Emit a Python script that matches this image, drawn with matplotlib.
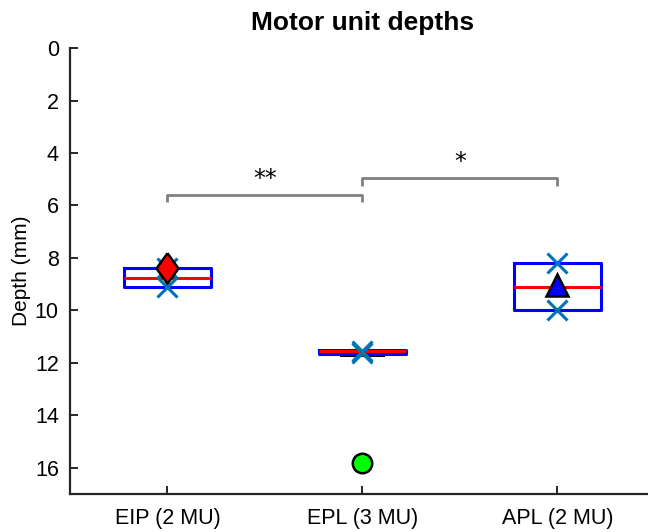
import numpy as np
import matplotlib
matplotlib.use("Agg")
import matplotlib.pyplot as plt

plt.rcParams['font.family'] = ['Liberation Sans', 'DejaVu Sans']

# groups and box summaries (depth in mm)
groups = ['EIP (2 MU)', 'EPL (3 MU)', 'APL (2 MU)']
box_q1 = [8.4, 11.52, 8.2]
box_med = [8.75, 11.55, 9.1]
box_q3 = [9.1, 11.66, 10.0]
whisk_lo = [8.4, 11.52, 8.2]
whisk_hi = [9.1, 11.74, 10.0]

# individual motor unit depths (x markers)
mu_depths = [[8.4, 9.1], [11.55, 11.62], [8.2, 10.0]]

# highlighted units
hl_depth = [8.4, 15.8, 9.05]
diamond = [(0, 1), (0.72, 0), (0, -1), (-0.72, 0), (0, 1)]
hl_marker = [diamond, 'o', '^']
hl_color = ['#ff0000', '#00ff00', '#0000ff']
hl_size = [22, 14, 16]

# significance brackets
sig_pairs = [(1, 2), (2, 3)]
sig_y = [5.6, 4.97]
sig_text = ['**', '*']

fig = plt.figure(figsize=(6.48, 5.32), dpi=100)
ax = fig.add_axes([0.108, 0.0714, 0.9028, 0.8383])

pos = np.arange(1, len(groups) + 1)
stats = []
for i in range(len(groups)):
    stats.append(dict(med=box_med[i], q1=box_q1[i], q3=box_q3[i],
                      whislo=whisk_lo[i], whishi=whisk_hi[i], fliers=[]))

ax.bxp(stats, positions=pos, widths=0.45, capwidths=0.22, showfliers=False,
       boxprops=dict(color='#0000ff', linewidth=2.2, zorder=3),
       medianprops=dict(color='#ff0000', linewidth=2.2, zorder=4),
       whiskerprops=dict(color='k', linestyle='--', linewidth=1, zorder=2),
       capprops=dict(color='k', linewidth=1.4, zorder=2))

for i, d in enumerate(mu_depths):
    ax.plot([pos[i]] * len(d), d, 'x', color='#0072bd', markersize=14,
            markeredgewidth=2.2, zorder=5)

for i in range(len(groups)):
    ax.plot(pos[i], hl_depth[i], marker=hl_marker[i], markersize=hl_size[i],
            markerfacecolor=hl_color[i], markeredgecolor='k',
            markeredgewidth=1.8, linestyle='none', zorder=6)

for (a, b), y, t in zip(sig_pairs, sig_y, sig_text):
    ax.plot([a, a, b, b], [y + 0.27, y, y, y + 0.27], color='#808080',
            linewidth=2, solid_capstyle='butt', zorder=2)
    ax.text((a + b) / 2, y - 0.15, t, ha='center', va='bottom', fontsize=17,
            family='DejaVu Sans')

ax.set_xlim(0.5, 3.5)
ax.set_ylim(17, 0)
ax.set_yticks(np.arange(0, 17, 2))
ax.set_xticks(pos)
ax.set_xticklabels(groups)
ax.set_ylabel('Depth (mm)', fontsize=15, labelpad=3)
ax.set_title('Motor unit depths', fontsize=19, fontweight='bold', pad=13)

for s in ['top', 'right']:
    ax.spines[s].set_visible(False)
for s in ['left', 'bottom']:
    ax.spines[s].set_linewidth(1.6)
    ax.spines[s].set_color('#262626')
ax.tick_params(direction='in', length=6, width=1.4, color='#262626',
               labelsize=15.5, pad=8)
ax.tick_params(axis='x', pad=10)

fig.savefig('out.png', dpi=100)
